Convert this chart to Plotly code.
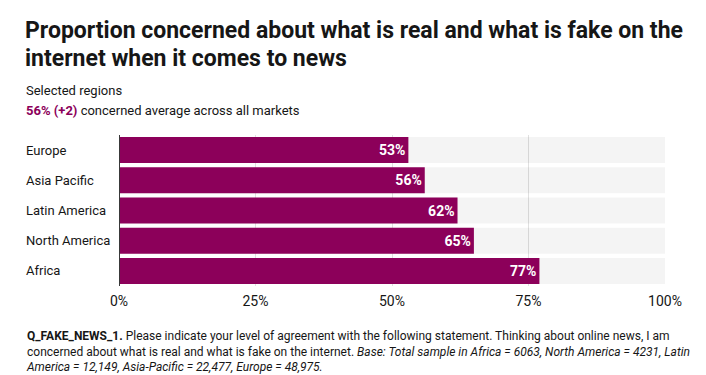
import plotly.graph_objects as go

regions = ["Europe", "Asia Pacific", "Latin America", "North America", "Africa"]
values = [53, 56, 62, 65, 77]
tick_vals = [0, 25, 50, 75, 100]
tick_text = ["0%", "25%", "50%", "75%", "100%"]

BAR = "#8c005a"
FONT = "Roboto"
W, H = 706, 375
L, R, T, B = 119, 41, 135, 89
PW = W - L - R
PH = H - T - B

def px(xp):
    return (xp - L) / PW

def py(yp):
    return (H - B - yp) / PH

fig = go.Figure()
fig.add_trace(go.Bar(
    y=regions, x=[100] * len(regions), orientation="h",
    marker=dict(color="rgba(0,0,0,0.045)", line=dict(width=0)),
    hoverinfo="skip", showlegend=False,
))
fig.add_trace(go.Bar(
    y=regions, x=values, orientation="h",
    marker=dict(color=BAR, line=dict(width=0)),
    text=[f"<b>{v}%</b>" for v in values], textposition="inside",
    insidetextanchor="end", textangle=0,
    textfont=dict(color="white", size=14, family=FONT),
    showlegend=False,
))

ann = []
for r in regions:
    ann.append(dict(x=px(24), xref="paper", y=r, yref="y", text=r,
                    showarrow=False, xanchor="left", yanchor="middle",
                    font=dict(size=13, color="#161616", family=FONT)))
ann.append(dict(x=px(23), xref="paper", y=py(30), yref="paper",
                text="<b>Proportion concerned about what is real and what is fake on the</b>",
                showarrow=False, xanchor="left", yanchor="middle",
                font=dict(size=23, color="#161616", family=FONT)))
ann.append(dict(x=px(23), xref="paper", y=py(58), yref="paper",
                text="<b>internet when it comes to news</b>",
                showarrow=False, xanchor="left", yanchor="middle",
                font=dict(size=23, color="#161616", family=FONT)))
ann.append(dict(x=px(24), xref="paper", y=py(90), yref="paper",
                text="Selected regions",
                showarrow=False, xanchor="left", yanchor="middle",
                font=dict(size=13, color="#161616", family=FONT)))
ann.append(dict(x=px(24), xref="paper", y=py(110), yref="paper",
                text=f"<b><span style='color:{BAR}'>56% (+2)</span></b> concerned average across all markets",
                showarrow=False, xanchor="left", yanchor="middle",
                font=dict(size=13, color="#161616", family=FONT)))
ann.append(dict(x=px(24), xref="paper", y=py(327), yref="paper",
                text=("<b>Q_FAKE_NEWS_1.</b> Please indicate your level of agreement with the following statement. Thinking about online news, I am<br>"
                      "concerned about what is real and what is fake on the internet. <i>Base: Total sample in Africa = 6063, North America = 4231, Latin</i><br>"
                      "<i>America = 12,149, Asia-Pacific = 22,477, Europe = 48,975.</i>"),
                showarrow=False, xanchor="left", yanchor="top", align="left",
                font=dict(size=12, color="#161616", family=FONT)))

fig.add_shape(type="line", xref="x", yref="paper", x0=0, x1=0, y0=0, y1=1,
              line=dict(color="#393939", width=2), layer="above")

fig.update_layout(
    width=W, height=H,
    margin=dict(l=L, r=R, t=T, b=B, pad=0),
    paper_bgcolor="white", plot_bgcolor="white",
    barmode="overlay", bargap=0.14,
    annotations=ann,
    font=dict(family=FONT, color="#161616"),
    xaxis=dict(range=[0, 100], tickvals=tick_vals, ticktext=tick_text,
               showgrid=True, gridcolor="#e0e0e0", gridwidth=1,
               zeroline=False, showline=False, ticks="", ticklabelstandoff=5,
               tickfont=dict(size=14, color="#161616", family=FONT), fixedrange=True),
    yaxis=dict(autorange="reversed", showticklabels=False, showgrid=False,
               zeroline=False, showline=False, ticks="", fixedrange=True),
)
fig.write_html("out.html", config={"displayModeBar": False},
               post_script="document.body.style.margin='0';document.body.style.padding='0';")
